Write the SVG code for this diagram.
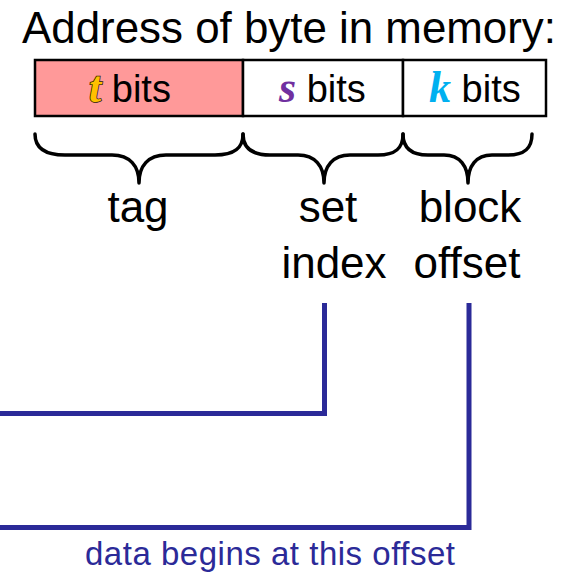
<svg xmlns="http://www.w3.org/2000/svg" width="564" height="573" viewBox="0 0 564 573">
  <style>
    .lbl { font-family: "Liberation Sans", Arial, sans-serif; fill: #000; }
    .var { font-family: "Liberation Serif", "Times New Roman", serif; font-weight: bold; font-style: italic; }
    .cell { stroke: #000; stroke-width: 2.5; }
    .brace { fill: none; stroke: #000; stroke-width: 3.5; stroke-linecap: round; stroke-linejoin: round; }
    .wire { fill: none; stroke: #2B2A98; stroke-width: 5; stroke-linejoin: miter; }
  </style>

  <!-- heading -->
  <text class="lbl" x="22" y="43" font-size="44" textLength="534" lengthAdjust="spacingAndGlyphs">Address of byte in memory:</text>

  <!-- address fields -->
  <g id="field-tag">
    <rect class="cell" x="35" y="60" width="208" height="56" fill="#FF9999"/>
    <text class="lbl" x="89" y="102" font-size="38"><tspan class="var" font-size="44" fill="#FFC000" stroke="#2a2000" stroke-width="1.5" paint-order="stroke">t</tspan> bits</text>
  </g>
  <g id="field-set">
    <rect class="cell" x="243" y="60" width="160" height="56" fill="#FFFFFF"/>
    <text class="lbl" x="279" y="102" font-size="38"><tspan class="var" font-size="44" fill="#7030A0">s</tspan> bits</text>
  </g>
  <g id="field-offset">
    <rect class="cell" x="403" y="60" width="143" height="56" fill="#FFFFFF"/>
    <text class="lbl" x="429" y="102" font-size="38"><tspan class="var" font-size="44" fill="#00B0F0">k</tspan> bits</text>
  </g>

  <!-- braces under each field -->
  <g id="braces">
    <path class="brace" d="M35 134 C35 148 45 155 65 155 L112 155 C130 155 139 166 139 183 C139 166 148 155 166 155 L215 155 C235 155 243 148 243 134"/>
    <path class="brace" d="M243 134 C243 148 252 155 270 155 L298 155 C315 155 324 166 324 183 C324 166 333 155 350 155 L378 155 C396 155 403 148 403 134"/>
    <path class="brace" d="M403 134 C403 148 411 155 428 155 L444 155 C460 155 468 166 468 183 C468 166 476 155 492 155 L508 155 C525 155 532 148 532 134"/>
  </g>

  <!-- field names -->
  <g id="name-tag">
    <text class="lbl" x="138" y="222" font-size="44" text-anchor="middle">tag</text>
  </g>
  <g id="name-set">
    <text class="lbl" x="328" y="222" font-size="44" text-anchor="middle">set</text>
    <text class="lbl" x="334" y="278" font-size="44" text-anchor="middle">index</text>
  </g>
  <g id="name-offset">
    <text class="lbl" x="470" y="222" font-size="44" text-anchor="middle">block</text>
    <text class="lbl" x="467" y="278" font-size="44" text-anchor="middle">offset</text>
  </g>

  <!-- connectors leading off to the left -->
  <g id="connectors">
    <path class="wire" d="M324.5 303 V413.5 H0"/>
    <path class="wire" d="M469 303 V527.5 H0"/>
  </g>

  <text x="85" y="565" font-family="Liberation Sans, Arial, sans-serif" font-size="33" fill="#2B2A98" textLength="370" lengthAdjust="spacing">data begins at this offset</text>
</svg>
